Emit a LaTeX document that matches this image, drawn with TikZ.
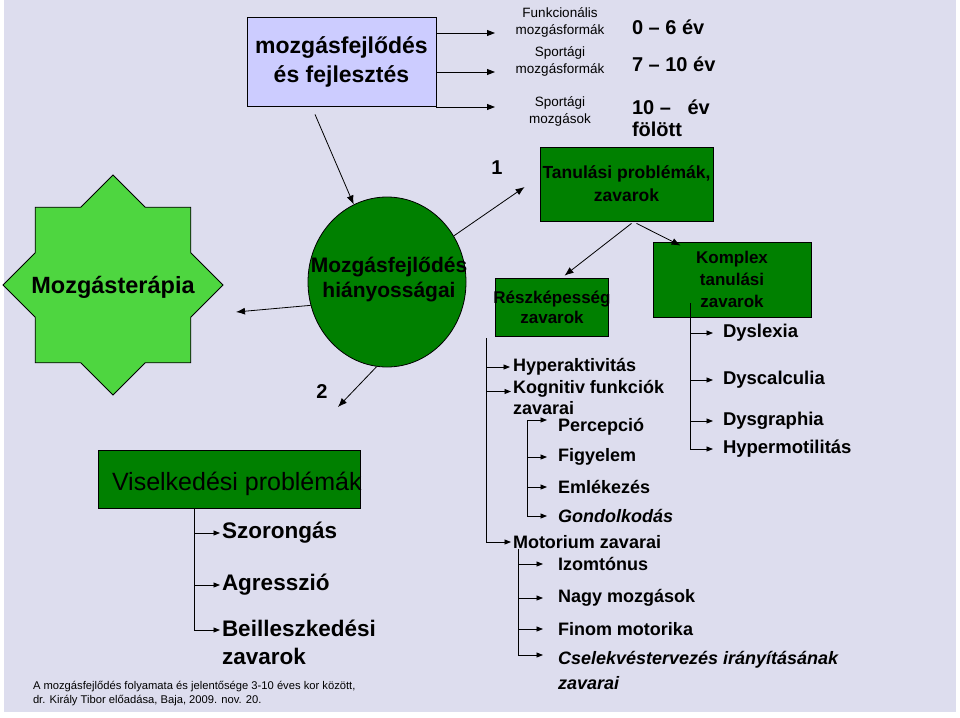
\documentclass[tikz,border=0pt]{standalone}
\usepackage{fontspec}
\setmainfont{Liberation Sans}
\usetikzlibrary{arrows.meta,shapes.geometric,calc}
\definecolor{bgc}{RGB}{221,221,238}
\definecolor{boxblue}{RGB}{204,204,255}
\definecolor{dgreen}{RGB}{0,128,0}
\definecolor{lgreen}{RGB}{78,214,64}
\newcommand\fz[2]{\fontsize{#1}{#2}\selectfont}
\begin{document}
\begin{tikzpicture}[x=1pt,y=-1pt,
  txt/.style={inner sep=0pt, outer sep=0pt},
  gbox/.style={draw=black, line width=0.8pt, fill=dgreen, inner sep=0pt},
  arr/.style={-{Latex[length=9pt,width=7pt]}, line width=0.8pt},
  harr/.style={-{Triangle[length=8pt,width=6pt]}, line width=0.9pt},
  tarr/.style={-{Triangle[length=6.5pt,width=5pt]}, line width=0.8pt, shorten >=#1},
  tarr/.default=2pt,
  rt/.style={txt, anchor=west, font=\bfseries\fz{18}{21}},
  kt/.style={txt, anchor=west, font=\bfseries\fz{18.5}{22}},
  vt/.style={txt, anchor=west, font=\bfseries\fz{22.5}{28}}
]
\useasboundingbox (0,0) rectangle (960,717);
\fill[bgc] (4,0) rectangle (956,712);

% top box
\node[draw, line width=0.8pt, fill=boxblue, minimum width=189, minimum height=89, inner sep=0pt,
      font=\bfseries\fz{23}{29}, align=center] (top) at (341.5,61.5) {mozgásfejlődés\\és fejlesztés};
\coordinate (a1) at (495,33);
\coordinate (a2) at (495,72);
\coordinate (a3) at (495,107);
\draw[harr] (top.east |- a1) -- (a1);
\draw[harr] (top.east |- a2) -- (a2);
\draw[harr] (top.east |- a3) -- (a3);
\node[txt, font=\fz{13.5}{17}, align=center] (f1) at (560,22) {Funkcionális\\mozgásformák};
\node[txt, font=\fz{13.5}{17}, align=center] (f2) at (560,61) {Sportági\\mozgásformák};
\node[txt, font=\fz{13.5}{17}, align=center] (f3) at (560,111) {Sportági\\mozgások};
\node[txt, anchor=west, font=\bfseries\fz{20}{22}] (e1) at (632,27) {0 – 6 év};
\node[txt, anchor=west, font=\bfseries\fz{20}{22}] (e2) at (632,64) {7 – 10 év};
\node[txt, anchor=west, align=left, font=\bfseries\fz{20}{22}] (e3) at (632,118) {10 –\ \ \ év\\fölött};

% number labels
\node[txt, font=\bfseries\fz{20}{24}] (n1) at (497,168) {1};
\node[txt, font=\bfseries\fz{20}{24}] (n2) at (322,392) {2};

% Tanulasi box
\node[gbox, minimum width=173, minimum height=74, font=\bfseries\fz{17.5}{23}, align=center] (tan) at (626.5,184) {Tanulási problémák,\\zavarok};

% ellipse
\node[ellipse, draw=black, line width=0.8pt, fill=dgreen, minimum width=158, minimum height=170, inner sep=0pt] (circ) at (387,282) {};
\node[txt, font=\bfseries\fz{21}{25}, align=center] (circt) at (389,280) {Mozgásfejlődés\\hiányosságai};

% star
\draw[fill=lgreen, line width=0.8pt] (223,285) -- (190.8,252.8) -- (190.8,207.2) -- (145.2,207.2) -- (113,175)
  -- (80.8,207.2) -- (35.2,207.2) -- (35.2,252.8) -- (3,285) -- (35.2,317.2) -- (35.2,362.8)
  -- (80.8,362.8) -- (113,395) -- (145.2,362.8) -- (190.8,362.8) -- (190.8,317.2) -- cycle;
\node[txt, font=\bfseries\fz{23.5}{28}] (star) at (113,287) {Mozgásterápia};
\coordinate (startip) at (236,312);

% Viselkedesi
\node[gbox, minimum width=262, minimum height=58] (visel) at (229,479) {};
\node[txt, anchor=west, font=\fz{25}{30}] (viselt) at (112,484) {Viselkedési problémák};
\coordinate (tip2) at (338,407);
\coordinate (vb) at ($(visel.south west)+(97,0)$);
\node[vt] (szor) at (222,533) {Szorongás};
\node[vt] (agr) at (222,585) {Agresszió};
\node[vt, align=left] (beil) at (222,642) {Beilleszkedési\\zavarok};
\draw[tarr] (vb) |- (szor.west);
\draw[tarr] (vb) |- (agr.west);
\draw[tarr] (vb) |- ($(beil.west)+(0,-12)$);

% Reszkepesseg
\node[gbox, minimum width=113, minimum height=58] (resz) at (551.5,307) {};
\node[txt, font=\bfseries\fz{17}{19.5}, align=center] (reszt) at (552,307.5) {Részképesség\\zavarok};

% Komplex
\node[gbox, minimum width=158, minimum height=75, font=\bfseries\fz{17}{22}, align=center] (komp) at (732,279.5) {Komplex\\tanulási\\zavarok};
\coordinate (kb) at ($(komp.south west)+(38,-14)$);
\node[kt] (dys1) at (723,333) {Dyslexia};
\node[kt] (dys2) at (723,380) {Dyscalculia};
\node[kt] (dys3) at (723,421) {Dysgraphia};
\node[kt] (hyp2) at (723,449) {Hypermotilitás};
\draw[tarr=10pt] (kb) |- (dys1.west);
\draw[tarr=10pt] (kb) |- (dys2.west);
\draw[tarr=10pt] (kb) |- (dys3.west);
\draw[tarr=10pt] (kb) |- (hyp2.west);

% main connectors
\draw[arr] ($(top.south)+(-26.5,8)$) -- (circ);
\draw[arr] (circ) -- ($(tan.west)+(-15,3)$);
\draw[arr] (circ.197) -- (startip);
\draw[arr] (circ.263) -- (tip2);
\draw[arr] ($(tan.south)+(5,2)$) -- ($(resz.north)+(13,-2)$);
\draw[arr] ($(tan.south)+(10,2)$) -- ($(komp.north west)+(28,4)$);

% left tree under Reszkepesseg
\coordinate (rb) at ($(resz.south west)+(-8,2)$);
\node[rt] (hyp) at (513,367) {Hyperaktivitás};
\node[rt, align=left] (kog) at (513,397.5) {Kognitiv funkciók\\zavarai};
\node[rt] (mot) at (513,542) {Motorium zavarai};
\draw[tarr=3pt] (rb) |- (hyp.west);
\draw[tarr=2pt] (rb) |- ($(kog.west)+(0,-6)$);
\draw[tarr=2pt] (rb) |- (mot.west);

\coordinate (kb2) at (527,420);
\node[rt] (perc) at (558,427) {Percepció};
\node[rt] (fig) at (558,457) {Figyelem};
\node[rt] (eml) at (558,487) {Emlékezés};
\node[rt, font=\bfseries\itshape\fz{18}{21}] (gond) at (558,516) {Gondolkodás};
\draw[tarr=11pt] (kb2) -- (kb2 -| perc.west);
\draw[tarr=11pt] (kb2) |- (fig.west);
\draw[tarr=11pt] (kb2) |- (eml.west);
\draw[tarr=11pt] (kb2) |- (gond.west);

\coordinate (mb) at (518,549);
\node[rt] (izom) at (558,564) {Izomtónus};
\node[rt] (nagy) at (558,598) {Nagy mozgások};
\node[rt] (finom) at (558,629) {Finom motorika};
\node[rt, align=left, font=\bfseries\itshape\fz{18}{25}] (csel) at (558,670) {Cselekvéstervezés irányításának\\zavarai};
\draw[tarr=15pt] (mb) |- (izom.west);
\draw[tarr=15pt] (mb) |- (nagy.west);
\draw[tarr=15pt] (mb) |- (finom.west);
\draw[tarr=15pt] (mb) |- ($(csel.west)+(0,-15)$);

% footer
\node[txt, anchor=west, align=left, font=\fz{11.2}{14}] (foot) at (33,694) {A mozgásfejlődés folyamata és jelentősége 3-10 éves kor között,\\dr. Király Tibor előadása, Baja, 2009. nov. 20.};
\end{tikzpicture}
\end{document}
